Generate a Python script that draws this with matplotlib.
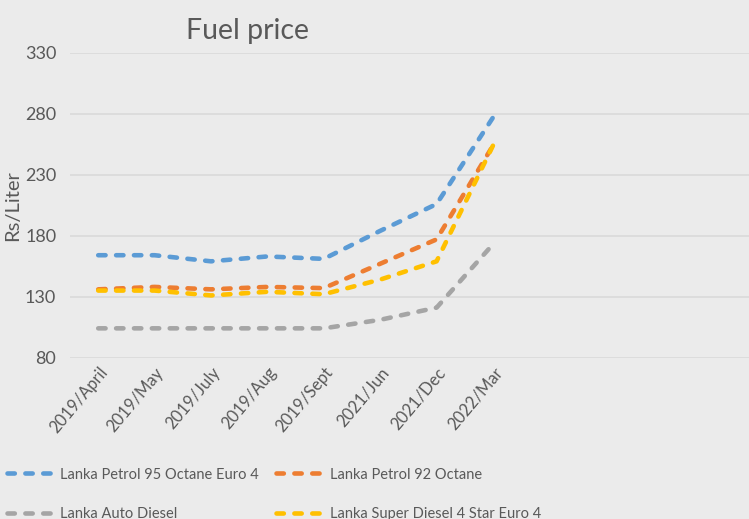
import numpy as np
import matplotlib.pyplot as plt

plt.rcParams.update({
    "font.family": ["Lato", "DejaVu Sans"],
    "text.color": "#595959",
    "axes.labelcolor": "#595959",
    "xtick.color": "#595959",
    "ytick.color": "#595959",
})

# ---------------------------------------------------------------------------
# datos
# ---------------------------------------------------------------------------
meses = ["2019/April", "2019/May", "2019/July", "2019/Aug", "2019/Sept",
         "2021/Jun", "2021/Dec", "2022/Mar"]

petrol_95 = [164, 164, 159, 163, 161, 184, 206, 277]
petrol_92 = [136, 138, 136, 138, 137, 157, 177, 254]
auto_diesel = [104, 104, 104, 104, 104, 111, 121, 173]
super_diesel = [135, 135, 131, 134, 132, 144, 159, 254]

series = [
    ("Lanka Petrol 95 Octane Euro 4", petrol_95, "#5B9BD5"),
    ("Lanka Petrol 92 Octane", petrol_92, "#ED7D31"),
    ("Lanka Auto Diesel", auto_diesel, "#A5A5A5"),
    ("Lanka Super Diesel 4 Star Euro 4", super_diesel, "#FFC000"),
]

BG = "#EBEBEB"

fig = plt.figure(figsize=(7.49, 5.19), dpi=100, facecolor=BG)
ax = fig.add_axes([0.0935, 0.311, 0.9065, 0.587], facecolor=BG)

x = np.arange(len(meses))
lineas = []
for nombre, vals, col in series:
    ln, = ax.plot(x, vals, color=col, lw=3.3, ls=(0, (1.6, 2.3)),
                  dash_capstyle="round", label=nombre)
    lineas.append(ln)

ax.set_ylim(80, 330)
ax.set_yticks(np.arange(80, 331, 50))
ax.set_xlim(-0.5, 11.54)
ax.set_xticks(x)
ax.set_xticklabels(meses, rotation=50, ha="right", rotation_mode="anchor",
                   fontsize=12)
ax.tick_params(axis="y", labelsize=13, length=0, pad=10)
ax.tick_params(axis="x", length=0, pad=5)
ax.grid(axis="y", color="#D9D9D9", lw=1.2)
ax.set_axisbelow(True)
for s in ax.spines.values():
    s.set_visible(False)

ax.set_ylabel("Rs/Liter", fontsize=14.5)
ax.yaxis.set_label_coords(-0.072, 0.5)

fig.text(248 / 749, 1 - 31 / 519, "Fuel price", fontsize=20.5,
         ha="center", va="center")

# orden por filas como en el original (ncol=2 rellena por columnas)
orden = [0, 2, 1, 3]
fig.legend([lineas[i] for i in orden], [series[i][0] for i in orden],
           loc="upper left", bbox_to_anchor=(5.5 / 749, 0.102), ncol=2,
           frameon=False, fontsize=10.5, handlelength=3.1,
           columnspacing=1.2, labelspacing=1.75, handletextpad=0.55,
           borderaxespad=0, borderpad=0.1)

fig.savefig("out.png", dpi=100, facecolor=BG)
